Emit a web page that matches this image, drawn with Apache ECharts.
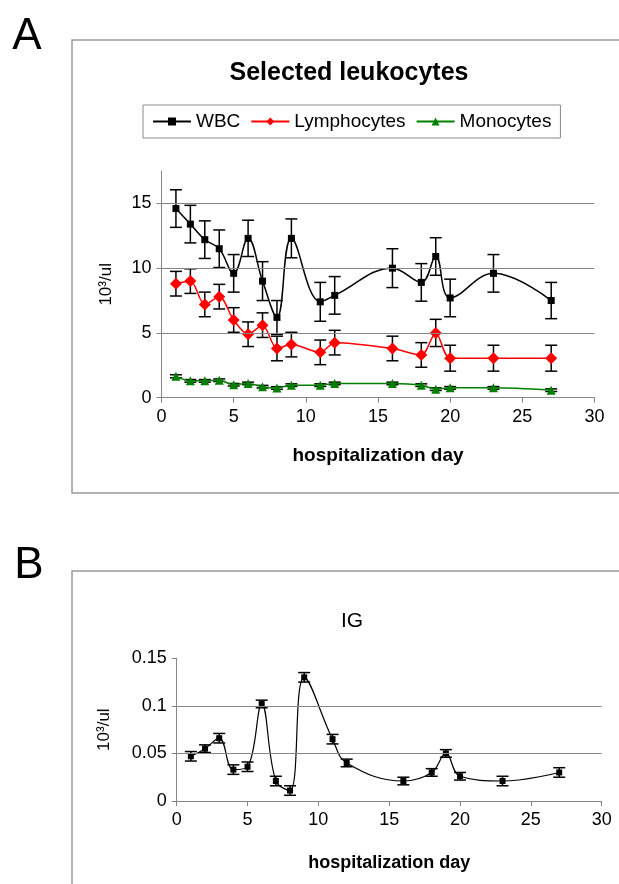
<!DOCTYPE html>
<html><head><meta charset="utf-8">
<script src="https://cdn.jsdelivr.net/npm/echarts@6/dist/echarts.min.js"></script>
<style>html,body{margin:0;padding:0;background:#fff}#c{width:619px;height:884px}</style>
</head><body><div id="c"></div>
<script>
// ---- data ----
const days = [1,2,3,4,5,6,7,8,9,11,12,16,18,19,20,23,27];
const wbc = [14.6,13.4,12.2,11.5,9.6,12.3,9.0,6.2,12.3,7.4,7.9,10.0,8.9,10.9,7.7,9.6,7.5];
const wbcErr = [1.45,1.45,1.45,1.45,1.45,1.4,1.5,1.3,1.5,1.5,1.45,1.5,1.45,1.45,1.45,1.45,1.4];
const lymph = [8.8,9.0,7.2,7.8,6.0,4.9,5.6,3.8,4.1,3.5,4.25,3.8,3.3,5.0,3.05,3.05,3.05];
const lymphErr = [0.95,0.95,0.95,0.95,0.95,0.95,0.95,0.95,0.95,0.95,0.95,0.95,0.95,1.05,1.0,1.0,1.0];
const mono = [1.65,1.3,1.3,1.35,1.0,1.1,0.85,0.75,0.97,0.97,1.1,1.1,0.97,0.66,0.76,0.76,0.58];
const monoErr = [0.12,0.1,0.1,0.1,0.1,0.1,0.1,0.1,0.1,0.1,0.1,0.1,0.1,0.1,0.1,0.1,0.1];
const ig = [0.047,0.055,0.066,0.033,0.036,0.102,0.021,0.011,0.130,0.065,0.040,0.021,0.030,0.050,0.026,0.021,0.030];
const igErr = [0.005,0.004,0.005,0.005,0.005,0.004,0.005,0.005,0.005,0.005,0.004,0.004,0.004,0.004,0.004,0.005,0.005];
const xTicks = [0,5,10,15,20,25,30];
const yTicksA = [0,5,10,15];
const yTicksB = [0,0.05,0.1,0.15];
const gridA = [5,10,15];
const gridB = [0.05,0.1];

const FONT = 'Liberation Sans';
const AXC = '#868686';

function pairs(v){ return days.map((d,i)=>[d, v[i]]); }
function errData(v,e){ return days.map((d,i)=>[d, v[i]-e[i], v[i]+e[i]]); }
function errSeries(v,e,xi,cap,lw){
  return {
    type:'custom', xAxisIndex:xi, yAxisIndex:xi, z:1, silent:true,
    encode:{x:0, y:[1,2]},
    data: errData(v,e),
    renderItem:function(params, api){
      const x=api.value(0), lo=api.value(1), hi=api.value(2);
      const pt=api.coord([x,hi]), pb=api.coord([x,lo]);
      const st={stroke:'#000', lineWidth:lw};
      return {type:'group', children:[
        {type:'line', shape:{x1:pt[0],y1:pt[1],x2:pb[0],y2:pb[1]}, style:st},
        {type:'line', shape:{x1:pt[0]-cap,y1:pt[1],x2:pt[0]+cap,y2:pt[1]}, style:st},
        {type:'line', shape:{x1:pb[0]-cap,y1:pb[1],x2:pb[0]+cap,y2:pb[1]}, style:st}
      ]};
    }
  };
}
function gridSeries(vals, xi){
  return {type:'line', xAxisIndex:xi, yAxisIndex:xi, data:[], z:0, silent:true,
    markLine:{silent:true, symbol:'none', label:{show:false}, animation:false,
      lineStyle:{color:AXC, type:'solid', width:1},
      data: vals.map(v=>({yAxis:v}))}};
}
const axisText = {color:'#000', fontFamily:FONT, fontSize:18};

const chart = echarts.init(document.getElementById('c'), null, {renderer:'canvas'});
chart.setOption({
  animation:false,
  backgroundColor:'#fff',
  textStyle:{fontFamily:FONT},
  grid:[
    {left:161.5, right:24.5, top:171, bottom:486.3},
    {left:176.7, right:17.3, top:658.3, bottom:83}
  ],
  graphic:[
    {type:'rect', shape:{x:72, y:40, width:600, height:453}, style:{fill:'none', stroke:'#9a9a9a', lineWidth:1.5}, z:-1},
    {type:'rect', shape:{x:72, y:571, width:600, height:400}, style:{fill:'none', stroke:'#9a9a9a', lineWidth:1.5}, z:-1},
    {type:'text', x:27, y:37, style:{text:'A', font:'44px "Liberation Sans"', fill:'#000', textAlign:'center', textVerticalAlign:'middle'}},
    {type:'text', x:29, y:566, style:{text:'B', font:'44px "Liberation Sans"', fill:'#000', textAlign:'center', textVerticalAlign:'middle'}},
    {type:'text', x:349, y:73, style:{text:'Selected leukocytes', font:'bold 25px "Liberation Sans"', fill:'#000', textAlign:'center', textVerticalAlign:'middle'}},
    {type:'text', x:352, y:621, style:{text:'IG', font:'21px "Liberation Sans"', fill:'#000', textAlign:'center', textVerticalAlign:'middle'}}
  ],
  legend:{
    data:['WBC','Lymphocytes','Monocytes'],
    left:143, top:105, padding:[7,9],
    borderColor:'#8a8a8a', borderWidth:1, backgroundColor:'#fff',
    itemWidth:38, itemHeight:10, itemGap:10,
    textStyle:{fontSize:19, color:'#000', fontFamily:FONT}
  },
  xAxis:[
    {type:'value', gridIndex:0, min:0, max:30, interval:5,
     axisLine:{lineStyle:{color:AXC}}, axisTick:{length:5, lineStyle:{color:AXC}},
     splitLine:{show:false}, axisLabel:Object.assign({margin:10}, axisText),
     name:'hospitalization day', nameLocation:'middle', nameGap:49,
     nameTextStyle:{fontSize:19, fontWeight:'bold', color:'#000', fontFamily:FONT}},
    {type:'value', gridIndex:1, min:0, max:30, interval:5,
     axisLine:{lineStyle:{color:AXC}}, axisTick:{length:5, lineStyle:{color:AXC}},
     splitLine:{show:false}, axisLabel:Object.assign({margin:10}, axisText),
     name:'hospitalization day', nameLocation:'middle', nameGap:53,
     nameTextStyle:{fontSize:18, fontWeight:'bold', color:'#000', fontFamily:FONT}}
  ],
  yAxis:[
    {type:'value', gridIndex:0, min:0, max:17.5, interval:5,
     axisLine:{show:true, lineStyle:{color:AXC}},
     axisTick:{show:true, length:5, lineStyle:{color:AXC}, customValues:yTicksA},
     splitLine:{show:false},
     axisLabel:Object.assign({margin:10, customValues:yTicksA, formatter:function(v){return (v%5===0)?String(v):'';}}, axisText),
     name:'10³/ul', nameLocation:'middle', nameGap:47, nameRotate:90,
     nameTextStyle:{fontSize:17, color:'#000', fontFamily:FONT}},
    {type:'value', gridIndex:1, min:0, max:0.15, interval:0.05,
     axisLine:{show:true, lineStyle:{color:AXC}},
     axisTick:{show:true, length:5, lineStyle:{color:AXC}},
     splitLine:{show:false},
     axisLabel:Object.assign({margin:10, formatter:function(v){return String(+v.toFixed(2));}}, axisText),
     name:'10³/ul', nameLocation:'middle', nameGap:64, nameRotate:90,
     nameTextStyle:{fontSize:17, color:'#000', fontFamily:FONT}}
  ],
  series:[
    gridSeries(gridA,0),
    gridSeries(gridB,1),
    errSeries(wbc,wbcErr,0,6,1.5),
    errSeries(lymph,lymphErr,0,6,1.5),
    errSeries(mono,monoErr,0,6,1.5),
    errSeries(ig,igErr,1,6,1.5),
    {name:'WBC', type:'line', xAxisIndex:0, yAxisIndex:0, z:3, data:pairs(wbc), smooth:0.4,
     symbol:'rect', symbolSize:7, itemStyle:{color:'#000'}, lineStyle:{color:'#000', width:1.5}},
    {name:'Lymphocytes', type:'line', xAxisIndex:0, yAxisIndex:0, z:3, data:pairs(lymph), smooth:0.3,
     symbol:'diamond', symbolSize:12, itemStyle:{color:'#ff0000'}, lineStyle:{color:'#ff0000', width:1.5}},
    {name:'Monocytes', type:'line', xAxisIndex:0, yAxisIndex:0, z:3, data:pairs(mono), smooth:0.3,
     symbol:'triangle', symbolSize:9, itemStyle:{color:'#008000'}, lineStyle:{color:'#008000', width:1.5}},
    {name:'IG', type:'line', xAxisIndex:1, yAxisIndex:1, z:3, data:pairs(ig), smooth:0.4,
     symbol:'rect', symbolSize:6, itemStyle:{color:'#000'}, lineStyle:{color:'#000', width:1.2}}
  ]
});
</script></body></html>
